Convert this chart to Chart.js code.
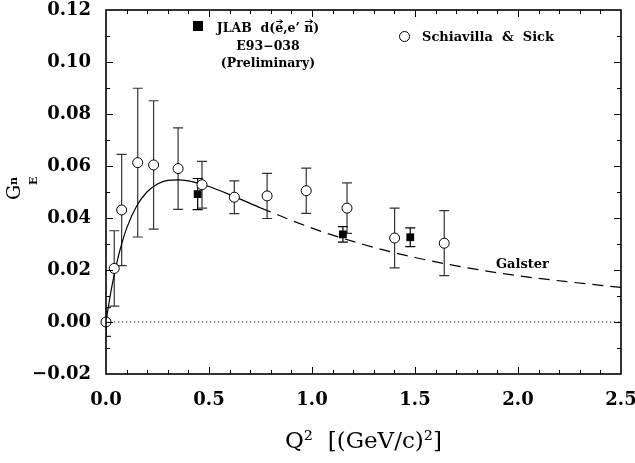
<!DOCTYPE html>
<html>
<head>
<meta charset="utf-8">
<script src="https://cdn.jsdelivr.net/npm/chart.js@4.4.0/dist/chart.umd.min.js"></script>
<style>
  html, body { margin: 0; padding: 0; background: #fff; }
  canvas { display: block; }
</style>
</head>
<body>
<canvas id="chart" width="635" height="463"></canvas>
<script>
// Schiavilla & Sick extraction of G_E^n (open circles)
const ssQ2   = [0.0, 0.04, 0.076, 0.154, 0.231, 0.35, 0.466, 0.623, 0.782, 0.972, 1.17, 1.401, 1.642];
const ssGEn  = [0.0, 0.0206, 0.0431, 0.0613, 0.0604, 0.059, 0.0528, 0.048, 0.0485, 0.0505, 0.0438, 0.0323, 0.0303];
const ssErr  = [0.0055, 0.0145, 0.0214, 0.0286, 0.0247, 0.0157, 0.009, 0.0063, 0.0087, 0.0087, 0.0097, 0.0115, 0.0125];

// JLAB E93-038 preliminary results (filled squares)
const jlabQ2  = [0.445, 1.15, 1.477];
const jlabGEn = [0.0492, 0.0337, 0.0326];
const jlabErr = [0.006, 0.003, 0.0036];

// Galster parametrisation: solid where constrained, dashed beyond
const galsterSolidQ2  = [0, 0.01, 0.02, 0.03, 0.05, 0.07, 0.1, 0.15, 0.2, 0.25, 0.3, 0.35, 0.4, 0.45, 0.5, 0.6, 0.75];
const galsterSolidGEn = [0, 0.0052, 0.0100, 0.0143, 0.0219, 0.0283, 0.0360, 0.0448, 0.0501, 0.0531, 0.0545, 0.0547, 0.0543, 0.0533, 0.0521, 0.0490, 0.0439];
const galsterDashQ2   = [0.75, 1.0, 1.25, 1.5, 1.75, 2.0, 2.25, 2.5];
const galsterDashGEn  = [0.0439, 0.0361, 0.0298, 0.0248, 0.0209, 0.0178, 0.0154, 0.0133];

// Axis ranges and tick spacing
const xRange = [0, 2.5];
const yRange = [-0.02, 0.12];
const xStep = 0.1, xLabelEvery = 0.5;
const yStep = 0.01, yLabelEvery = 0.02;

const pts = (xs, ys) => xs.map((x, i) => ({ x, y: ys[i] }));
const isMultiple = (v, m) => Math.abs(v / m - Math.round(v / m)) < 1e-6;

const tickFont = { family: '"DejaVu Serif"', size: 18, weight: 'bold' };
const labelFont = 'bold 12.5px "DejaVu Serif"';

function fmtY(v) {
  if (!isMultiple(v, yLabelEvery)) return '';
  const r = Math.round(v * 100) / 100;
  return (r < 0 ? '\u2212' : '') + Math.abs(r).toFixed(2);
}

// Vertical error bars, drawn under the markers
const errorBars = {
  id: 'errorBars',
  beforeDatasetsDraw(chart) {
    const { ctx, chartArea: a, scales: { x, y } } = chart;
    ctx.save();
    ctx.beginPath();
    ctx.rect(a.left, a.top, a.right - a.left, a.bottom - a.top);
    ctx.clip();
    chart.data.datasets.forEach(ds => {
      if (!ds.errors) return;
      ctx.strokeStyle = ds.errorColor || '#000';
      ctx.lineWidth = 1.2;
      ds.data.forEach((p, j) => {
        const e = ds.errors[j];
        const px = x.getPixelForValue(p.x);
        const top = y.getPixelForValue(p.y + e);
        const bot = y.getPixelForValue(p.y - e);
        const cap = 5;
        ctx.beginPath();
        ctx.moveTo(px, top); ctx.lineTo(px, bot);
        ctx.moveTo(px - cap, top); ctx.lineTo(px + cap, top);
        ctx.moveTo(px - cap, bot); ctx.lineTo(px + cap, bot);
        ctx.stroke();
      });
    });
    ctx.restore();
  }
};

// Plot frame with inward ticks on all four sides
const frameTicks = {
  id: 'frameTicks',
  afterDraw(chart) {
    const { ctx, chartArea: a, scales: { x, y } } = chart;
    ctx.save();
    ctx.strokeStyle = '#000';
    ctx.lineWidth = 1;
    ctx.beginPath();
    x.ticks.forEach(t => {
      const v = t.value;
      if (v <= xRange[0] + 1e-9 || v >= xRange[1] - 1e-9) return;
      const px = Math.round(x.getPixelForValue(v)) + 0.5;
      const len = isMultiple(v, xLabelEvery) ? 7 : 4;
      ctx.moveTo(px, a.bottom); ctx.lineTo(px, a.bottom - len);
      ctx.moveTo(px, a.top); ctx.lineTo(px, a.top + len);
    });
    y.ticks.forEach(t => {
      const v = t.value;
      if (v <= yRange[0] + 1e-9 || v >= yRange[1] - 1e-9) return;
      const py = Math.round(y.getPixelForValue(v)) + 0.5;
      const len = isMultiple(v, yLabelEvery) ? 7 : 4;
      ctx.moveTo(a.left, py); ctx.lineTo(a.left + len, py);
      ctx.moveTo(a.right, py); ctx.lineTo(a.right - len, py);
    });
    ctx.stroke();
    ctx.lineWidth = 1.6;
    ctx.strokeRect(a.left, a.top, a.right - a.left, a.bottom - a.top);
    ctx.restore();
  }
};

function vecArrow(ctx, x0, x1, yy) {
  ctx.beginPath();
  ctx.moveTo(x0, yy); ctx.lineTo(x1, yy);
  ctx.moveTo(x1 - 3, yy - 2); ctx.lineTo(x1, yy); ctx.lineTo(x1 - 3, yy + 2);
  ctx.stroke();
}

// Legend entries, curve label and the composite axis title
const annotations = {
  id: 'annotations',
  afterDraw(chart) {
    const { ctx } = chart;
    ctx.save();
    ctx.fillStyle = '#000';
    ctx.strokeStyle = '#000';
    ctx.font = labelFont;
    ctx.textBaseline = 'alphabetic';

    // JLAB entry
    const cx = 268;
    ctx.fillRect(193, 21, 10, 10);
    const parts = ['JLAB  d(', 'e', ',', 'e', '\u2019 ', 'n', ')'];
    const widths = parts.map(p => ctx.measureText(p).width);
    let xx = cx - widths.reduce((s, w) => s + w, 0) / 2;
    const xh = 7;
    ctx.lineWidth = 1;
    parts.forEach((p, i) => {
      ctx.textAlign = 'left';
      ctx.fillText(p, xx, 32);
      if (i === 1 || i === 5) vecArrow(ctx, xx + 1, xx + widths[i] - 0.5, 32 - xh - 3.5);
      xx += widths[i];
    });
    ctx.textAlign = 'center';
    ctx.fillText('E93\u2212038', cx, 50);
    ctx.fillText('(Preliminary)', cx, 67);

    // Schiavilla & Sick entry
    ctx.beginPath();
    ctx.lineWidth = 1;
    ctx.arc(404.5, 36.5, 5, 0, Math.PI * 2);
    ctx.fillStyle = '#fff'; ctx.fill(); ctx.stroke();
    ctx.fillStyle = '#000';
    ctx.textAlign = 'left';
    ctx.font = 'bold 13px "DejaVu Serif"';
    ctx.fillText('Schiavilla  &  Sick', 422, 41);

    // Curve label
    ctx.fillText('Galster', 496, 268);

    // y-axis title: G with superscript n and subscript E
    ctx.translate(20, 200);
    ctx.rotate(-Math.PI / 2);
    ctx.font = '19px "DejaVu Serif"';
    ctx.fillText('G', 0, 0);
    ctx.font = 'bold 11px "DejaVu Serif"';
    ctx.fillText('n', 15, -3);
    ctx.fillText('E', 15, 17);
    ctx.restore();
  }
};

new Chart(document.getElementById('chart'), {
  type: 'scatter',
  data: {
    datasets: [
      {
        type: 'line', label: 'zero', data: pts(xRange, [0, 0]),
        borderColor: '#000', borderWidth: 1, borderDash: [1.2, 2.8],
        pointRadius: 0, order: 5
      },
      {
        type: 'line', label: 'Galster', data: pts(galsterSolidQ2, galsterSolidGEn),
        borderColor: '#000', borderWidth: 1.2, pointRadius: 0,
        cubicInterpolationMode: 'monotone', order: 4
      },
      {
        type: 'line', label: 'Galster (extrapolated)', data: pts(galsterDashQ2, galsterDashGEn),
        borderColor: '#000', borderWidth: 1.2, borderDash: [11, 7], pointRadius: 0,
        cubicInterpolationMode: 'monotone', order: 3
      },
      {
        label: 'Schiavilla & Sick', data: pts(ssQ2, ssGEn), errors: ssErr, errorColor: '#333',
        pointStyle: 'circle', pointRadius: 5, pointBackgroundColor: '#fff',
        pointBorderColor: '#000', pointBorderWidth: 1, clip: false, order: 2
      },
      {
        label: 'JLAB E93-038', data: pts(jlabQ2, jlabGEn), errors: jlabErr, errorColor: '#000',
        pointStyle: 'rect', pointRadius: 5.5, pointBackgroundColor: '#000',
        pointBorderColor: '#000', pointBorderWidth: 0, order: 1
      }
    ]
  },
  options: {
    responsive: false,
    animation: false,
    events: [],
    layout: { padding: { left: 0, right: 14, top: 10, bottom: 0 } },
    plugins: { legend: { display: false }, tooltip: { enabled: false } },
    scales: {
      x: {
        type: 'linear', min: xRange[0], max: xRange[1],
        grid: { display: false, drawTicks: false },
        border: { display: false },
        ticks: {
          stepSize: xStep, autoSkip: false, maxRotation: 0, padding: 16,
          color: '#000', font: tickFont,
          callback: v => isMultiple(v, xLabelEvery) ? v.toFixed(1) : ''
        },
        title: {
          display: true, text: 'Q\u00b2  [(GeV/c)\u00b2]', color: '#000',
          font: { family: '"DejaVu Serif"', size: 23 }, padding: { top: 0, bottom: 7 }
        },
        afterFit(s) { s.height = 89; s.paddingLeft = 0; s.paddingRight = 0; }
      },
      y: {
        type: 'linear', min: yRange[0], max: yRange[1],
        grid: { display: false, drawTicks: false },
        border: { display: false },
        ticks: {
          stepSize: yStep, autoSkip: false, padding: 15,
          color: '#000', font: tickFont,
          callback: fmtY
        },
        afterFit(s) { s.width = 106; s.paddingTop = 0; s.paddingBottom = 0; }
      }
    }
  },
  plugins: [errorBars, frameTicks, annotations]
});
</script>
</body>
</html>
